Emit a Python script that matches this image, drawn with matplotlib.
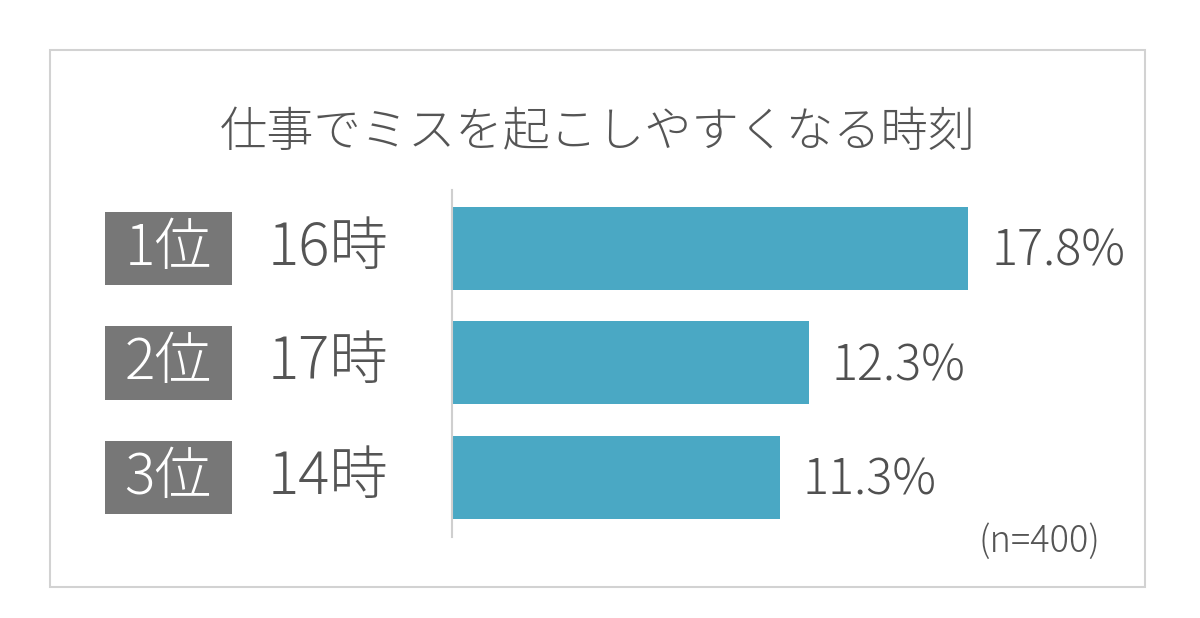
import matplotlib
matplotlib.use("Agg")
import matplotlib.pyplot as plt
from matplotlib.patches import Rectangle
from matplotlib.transforms import blended_transform_factory

plt.rcParams['font.family'] = ['Noto Sans CJK JP', 'DejaVu Sans']

# data
title = "仕事でミスを起こしやすくなる時刻"
ranks = ["1位", "2位", "3位"]
hours = ["16時", "17時", "14時"]
values = [17.8, 12.3, 11.3]
note = "(n=400)"

W, H = 1200, 618
fig = plt.figure(figsize=(12, 6.18), dpi=100)
fig.patch.set_facecolor("white")

# outer frame
fig.patches.append(Rectangle((50 / W, 1 - 587 / H), 1095 / W, 537 / H,
                             transform=fig.transFigure, fill=False,
                             edgecolor="#d2d2d2", linewidth=1.5))

fig.text(598 / W, 1 - 132 / H, title, ha="center", va="center",
         fontsize=34, color="#555555", fontweight="light")

# bar area
ax = fig.add_axes([452 / W, 1 - 537 / H, 580 / W, 347 / H])
ypos = list(range(len(values)))
ax.barh(ypos, values, height=0.725, color="#4aa8c4")
ax.set_xlim(0, 20)
ax.set_ylim(2.52, -0.51)
for s in ["top", "right", "bottom"]:
    ax.spines[s].set_visible(False)
ax.spines["left"].set_color("#cfcfcf")
ax.spines["left"].set_linewidth(1.5)
ax.set_xticks([])
ax.set_yticks([])
ax.patch.set_alpha(0)

for y, v in zip(ypos, values):
    ax.text(v + 0.8, y + 0.03, f"{v:.1f}%", ha="left", va="center",
            fontsize=35, color="#505050", fontweight="light")

# rank boxes and hour labels on the left
tr = blended_transform_factory(fig.transFigure, ax.transData)
for y, r, h in zip(ypos, ranks, hours):
    fig.patches.append(Rectangle((105 / W, y - 0.32), 127 / W, 0.64,
                                 transform=tr, facecolor="#777777",
                                 edgecolor="none"))
    fig.text(168 / W, y, r, transform=tr, ha="center", va="center",
             fontsize=41, color="white", fontweight="light")
    fig.text(268 / W, y, h, transform=tr, ha="left", va="center",
             fontsize=42, color="#555555", fontweight="light")

fig.text(1100 / W, 1 - 542 / H, note, ha="right", va="center",
         fontsize=26, color="#555555", fontweight="light")

fig.savefig("out.png", dpi=100, facecolor="white")
